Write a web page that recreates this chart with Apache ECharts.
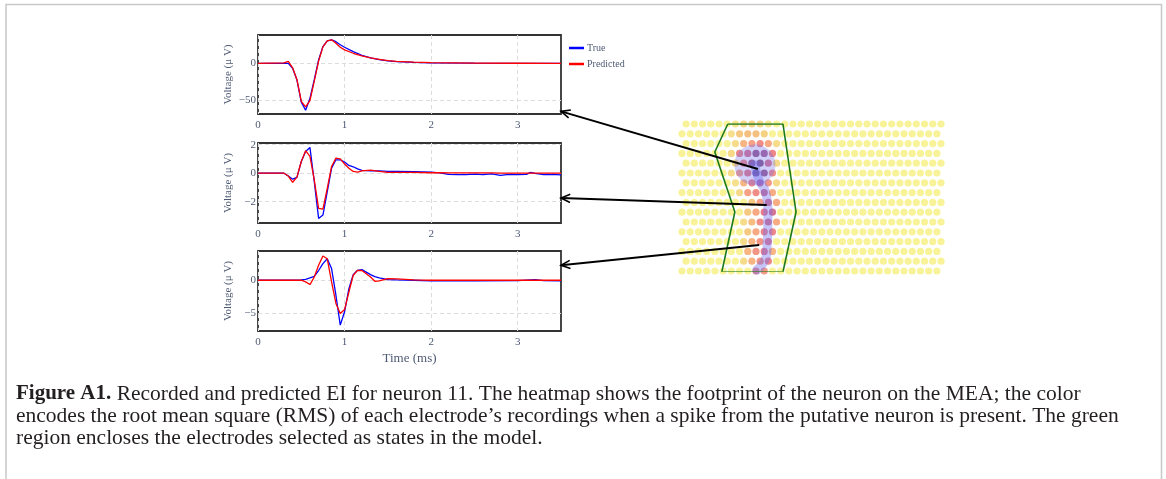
<!DOCTYPE html>
<html>
<head>
<meta charset="utf-8">
<script src="https://cdn.jsdelivr.net/npm/echarts@6/dist/echarts.min.js"></script>
<style>
html, body { margin: 0; padding: 0; background: #fff; }
#main { width: 1166px; height: 479px; }
</style>
</head>
<body>
<div id="main"></div>
<script>
// waveform panels: time in ms, voltage in uV
var timeA = [0, 0.3, 0.35, 0.4, 0.45, 0.5, 0.55, 0.6, 0.65, 0.7, 0.75, 0.8, 0.85, 0.9, 0.95, 1.0, 1.1, 1.2, 1.3, 1.4, 1.5, 1.6, 1.8, 2.0, 2.5, 3.0, 3.5];
var trueA = [0, 0, 0, -6.7, -22.5, -52, -63, -47, -22, 4.5, 22.5, 30, 31.5, 29, 25, 21.6, 15.8, 10.8, 7.2, 5, 3.2, 2.2, 1.3, 0.7, 0.2, 0, 0];
var predA = [0, 0.5, 2.7, -6, -22, -51, -58.5, -50, -24, 3, 22, 30, 31.5, 27, 21.6, 18, 13.5, 9.9, 7.2, 5.4, 3.6, 2.7, 1.5, 0.8, 0.3, 0.1, 0];

var timeB = [0, 0.3, 0.35, 0.4, 0.45, 0.5, 0.55, 0.6, 0.65, 0.7, 0.75, 0.8, 0.85, 0.9, 0.95, 1.0, 1.05, 1.1, 1.15, 1.2, 1.3, 1.4, 1.5, 1.6, 1.8, 2.0, 2.1, 2.2, 2.3, 2.4, 2.5, 2.6, 2.7, 2.8, 2.9, 3.0, 3.1, 3.15, 3.2, 3.3, 3.4, 3.5];
var trueB = [0, 0, -0.2, -0.42, -0.3, 0.82, 1.53, 1.81, -0.6, -3.18, -2.94, -1.3, 0.35, 0.94, 0.94, 0.78, 0.54, 0.45, 0.3, 0.19, 0.16, 0.16, 0.12, 0.12, 0.1, 0.07, 0.02, -0.08, -0.1, -0.1, -0.07, -0.1, -0.05, -0.15, -0.08, -0.1, -0.08, 0.05, -0.02, -0.1, -0.08, -0.12];
var predB = [0, 0, -0.2, -0.64, -0.28, 0.82, 1.58, 1.18, -0.47, -2.47, -2.52, -1.06, 0.47, 1.06, 1.01, 0.64, 0.35, 0.12, 0.07, 0.16, 0.21, 0.12, 0.05, 0.05, 0.05, 0.03, 0.03, 0.02, 0.02, 0.02, 0.02, 0.02, 0.02, 0.01, 0.01, 0.01, 0.01, 0.01, 0.01, 0, 0, 0];

var timeC = [0, 0.5, 0.55, 0.6, 0.65, 0.7, 0.75, 0.8, 0.85, 0.9, 0.95, 1.0, 1.05, 1.1, 1.15, 1.2, 1.3, 1.35, 1.4, 1.5, 1.6, 1.8, 2.0, 2.5, 3.0, 3.2, 3.3, 3.5];
var trueC = [0, 0.05, 0.15, 0.36, 0.6, 1.5, 2.55, 3.3, 1.8, -2.3, -6.9, -4.85, -1.28, 0.87, 1.53, 1.63, 0.87, 0.55, 0.36, 0.1, 0.05, 0, -0.1, -0.1, -0.05, 0.1, -0.05, -0.1];
var predC = [0, 0.02, -0.25, -0.66, 0.5, 2.3, 3.72, 3.3, -0.25, -3.57, -5.1, -4.5, -1.8, 0.77, 1.53, 1.5, 0.51, -0.15, -0.1, 0.25, 0.2, 0.05, 0, 0, 0, 0, 0, 0];

// axis ranges and tick labels of the three panels
var yRanges = [[-68, 38], [-3.5, 2.12], [-7.8, 4.5]];
var yTicks = [[0, -50], [2, 0, -2], [0, -5]];
var xTicks = [0, 1, 2, 3];

// MEA layout (hex grid, 16 rows x 32 electrodes) and the footprint: [row, col, rms]
var meaRows = 16;
var meaCols = 32;
var footprint = [
    [0, 6, 0.08], [0, 7, 0.16], [0, 8, 0.18], [0, 9, 0.16], [0, 10, 0.08],
    [1, 6, 0.1], [1, 7, 0.22], [1, 8, 0.26], [1, 9, 0.26], [1, 10, 0.18],
    [2, 6, 0.12], [2, 7, 0.32], [2, 8, 0.42], [2, 9, 0.52], [2, 10, 0.38], [2, 11, 0.12],
    [3, 6, 0.14], [3, 7, 0.55], [3, 8, 0.68], [3, 9, 0.9], [3, 10, 0.85], [3, 11, 0.55],
    [4, 6, 0.16], [4, 7, 0.52], [4, 8, 0.9], [4, 9, 0.95], [4, 10, 0.68], [4, 11, 0.14],
    [5, 6, 0.12], [5, 7, 0.42], [5, 8, 0.62], [5, 9, 1.0], [5, 10, 0.9], [5, 11, 0.5],
    [6, 6, 0.1], [6, 7, 0.32], [6, 8, 0.56], [6, 9, 0.76], [6, 10, 0.46], [6, 11, 0.12],
    [7, 7, 0.14], [7, 8, 0.42], [7, 9, 0.52], [7, 10, 0.72], [7, 11, 0.36],
    [8, 8, 0.22], [8, 9, 0.42], [8, 10, 0.66], [8, 11, 0.36],
    [9, 8, 0.22], [9, 9, 0.38], [9, 10, 0.62], [9, 11, 0.7],
    [10, 7, 0.12], [10, 8, 0.28], [10, 9, 0.52], [10, 10, 0.66], [10, 11, 0.36],
    [11, 8, 0.22], [11, 9, 0.38], [11, 10, 0.56], [11, 11, 0.56],
    [12, 7, 0.12], [12, 8, 0.32], [12, 9, 0.48], [12, 10, 0.62],
    [13, 8, 0.32], [13, 9, 0.48], [13, 10, 0.62], [13, 11, 0.32],
    [14, 7, 0.12], [14, 8, 0.32], [14, 9, 0.48], [14, 10, 0.56],
    [15, 9, 0.52], [15, 10, 0.46]
];

// selected-state region and soma/axon track, in electrode units
var regionPts = [[5.57, 0], [12.28, 0], [13.87, 8.98], [12.28, 15.1], [4.84, 15.1], [6.43, 8.98], [3.99, 2.86], [5.57, 0]];
var somaPt = [8.87, 4.17];
var trackPts = [[8.87, 4.17], [9.35, 5.7], [10.2, 7.04], [10.45, 9.3], [10.33, 12.86], [9.96, 14.08], [9.1, 14.9]];

// which electrode each arrow starts at, and where it points on each panel
var arrowFrom = [[9.23, 4.6], [10.3, 8.27], [9.39, 12.35]];
var arrowTo = [[3.5, -64.5], [3.5, -1.75], [3.5, 2.3]];

var captionLines = [
    ' Recorded and predicted EI for neuron 11. The heatmap shows the footprint of the neuron on the MEA; the color',
    'encodes the root mean square (RMS) of each electrode\u2019s recordings when a spike from the putative neuron is present. The green',
    'region encloses the electrodes selected as states in the model.'
];

var serif = '"Liberation Serif", "DejaVu Serif", serif';
var slate = '#4e5a74';

function zip(xs, ys) {
    return xs.map(function (x, i) { return [x, ys[i]]; });
}

function meaData() {
    var lookup = {};
    footprint.forEach(function (f) { lookup[f[0] + '_' + f[1]] = f[2]; });
    var out = [];
    for (var r = 0; r < meaRows; r++) {
        for (var c = 0; c < meaCols; c++) {
            var v = lookup[r + '_' + c] || 0;
            out.push([c + (r % 2 === 0 ? 0.5 : 0), r, v]);
        }
    }
    return out;
}

var chart = echarts.init(document.getElementById('main'), null, { renderer: 'canvas' });

var gridBoxes = [
    { left: 258, top: 35, width: 303, height: 79 },
    { left: 258, top: 143, width: 303, height: 80 },
    { left: 258, top: 251, width: 303, height: 80 }
];

var grids = gridBoxes.map(function (g) {
    return {
        left: g.left, top: g.top, width: g.width, height: g.height,
        show: true, borderColor: '#333', borderWidth: 1.8,
        outerBoundsMode: 'none'
    };
});
grids.push({ left: 682, top: 124, width: 259, height: 147, outerBoundsMode: 'none' });

var xAxes = [];
var yAxes = [];
for (var i = 0; i < 3; i++) {
    xAxes.push({
        type: 'value', gridIndex: i, min: 0, max: 3.5,
        axisLine: { show: false }, axisTick: { show: false, customValues: xTicks },
        axisLabel: { customValues: xTicks, color: slate, fontFamily: serif, fontSize: 11, margin: 6 },
        splitLine: { show: true, lineStyle: { type: [4, 3], color: '#dcdcdc', width: 1 } },
        name: i === 2 ? 'Time (ms)' : '', nameLocation: 'middle', nameGap: 21,
        nameTextStyle: { color: slate, fontFamily: serif, fontSize: 13 }
    });
    yAxes.push({
        type: 'value', gridIndex: i, min: yRanges[i][0], max: yRanges[i][1],
        axisLine: { show: false }, axisTick: { show: false, customValues: yTicks[i] },
        axisLabel: {
            customValues: yTicks[i], color: slate, fontFamily: serif, fontSize: 11, margin: 2,
            formatter: function (v) { return String(v).replace('-', '\u2212'); }
        },
        splitLine: { show: true, lineStyle: { type: [4, 3], color: '#dcdcdc', width: 1 } },
        name: 'Voltage (\u03bc V)', nameLocation: 'middle', nameGap: 24,
        nameTextStyle: { color: slate, fontFamily: serif, fontSize: 11 }
    });
}
// heatmap axes, hidden
xAxes.push({ type: 'value', gridIndex: 3, min: 0, max: 31.5, show: false });
yAxes.push({ type: 'value', gridIndex: 3, min: 0, max: 15, inverse: true, show: false });

var panels = [[timeA, trueA, predA], [timeB, trueB, predB], [timeC, trueC, predC]];
var series = [];
panels.forEach(function (p, i) {
    series.push({
        name: 'True', type: 'line', xAxisIndex: i, yAxisIndex: i, data: zip(p[0], p[1]),
        showSymbol: false, lineStyle: { color: '#0000ff', width: 1.3 }, itemStyle: { color: '#0000ff' },
        animation: false
    });
    series.push({
        name: 'Predicted', type: 'line', xAxisIndex: i, yAxisIndex: i, data: zip(p[0], p[2]),
        showSymbol: false, lineStyle: { color: '#ff0000', width: 1.3 }, itemStyle: { color: '#ff0000' },
        animation: false
    });
});

var meaIndex = series.length;
series.push({
    type: 'scatter', xAxisIndex: 3, yAxisIndex: 3, data: meaData(),
    symbolSize: 7.2, animation: false, z: 2
});
// footprint track overlay
series.push({
    type: 'scatter', xAxisIndex: 3, yAxisIndex: 3, data: [somaPt], symbolSize: 41,
    itemStyle: { color: 'rgba(110, 110, 240, 0.4)' }, animation: false, z: 3, silent: true
});
series.push({
    type: 'line', xAxisIndex: 3, yAxisIndex: 3, data: trackPts, smooth: true, showSymbol: false,
    lineStyle: { color: 'rgba(110, 110, 240, 0.4)', width: 9, cap: 'round' }, animation: false, z: 3, silent: true
});
// selected electrodes region
series.push({
    type: 'line', xAxisIndex: 3, yAxisIndex: 3, data: regionPts, showSymbol: false,
    lineStyle: { color: '#1c7a1c', width: 1.6 }, animation: false, z: 4, silent: true
});

chart.setOption({
    backgroundColor: '#fff',
    animation: false,
    grid: grids,
    xAxis: xAxes,
    yAxis: yAxes,
    legend: {
        data: ['True', 'Predicted'], orient: 'vertical', left: 564, top: 38,
        itemWidth: 15, itemHeight: 2.5, itemGap: 6, icon: 'rect',
        textStyle: { color: slate, fontFamily: serif, fontSize: 10, padding: [0, 0, 0, -2] }
    },
    visualMap: {
        type: 'continuous', show: false, seriesIndex: meaIndex, dimension: 2, min: 0, max: 1,
        inRange: { color: ['#f6f080', '#f2c060', '#f58e66', '#e65e6a', '#ad4880', '#582d66'] }
    },
    series: series
});

// arrows from electrodes to panels, and caption/frame
var graphics = [];
graphics.push({
    type: 'polyline', silent: true,
    shape: { points: [[6, 479], [6, 4.5], [1161.5, 4.5], [1161.5, 479]] },
    style: { stroke: '#c8c8c8', lineWidth: 1.5, fill: null }
});
arrowFrom.forEach(function (from, i) {
    var s = chart.convertToPixel({ gridIndex: 3 }, from);
    var e = chart.convertToPixel({ gridIndex: i }, arrowTo[i]);
    var dx = s[0] - e[0], dy = s[1] - e[1];
    var len = Math.sqrt(dx * dx + dy * dy);
    dx /= len; dy /= len;
    var head = 10, ang = 0.42;
    var a1 = [e[0] + head * (dx * Math.cos(ang) - dy * Math.sin(ang)), e[1] + head * (dx * Math.sin(ang) + dy * Math.cos(ang))];
    var a2 = [e[0] + head * (dx * Math.cos(-ang) - dy * Math.sin(-ang)), e[1] + head * (dx * Math.sin(-ang) + dy * Math.cos(-ang))];
    graphics.push({
        type: 'line', silent: true, z: 100,
        shape: { x1: s[0], y1: s[1], x2: e[0], y2: e[1] },
        style: { stroke: '#000', lineWidth: 2 }
    });
    graphics.push({
        type: 'polyline', silent: true, z: 100,
        shape: { points: [a1, e, a2] },
        style: { stroke: '#000', lineWidth: 1.6, fill: null }
    });
});
captionLines.forEach(function (line, i) {
    var text = i === 0 ? '{b|Figure A1.}' + line : line;
    graphics.push({
        type: 'text', silent: true, x: 16, y: 394 + i * 22,
        style: {
            text: text, fill: '#231f20', fontFamily: serif, fontSize: 21.5, verticalAlign: 'middle',
            rich: { b: { fontWeight: 'bold', fontFamily: serif, fontSize: 21, fill: '#231f20' } }
        }
    });
});
chart.setOption({ graphic: graphics });
</script>
</body>
</html>
